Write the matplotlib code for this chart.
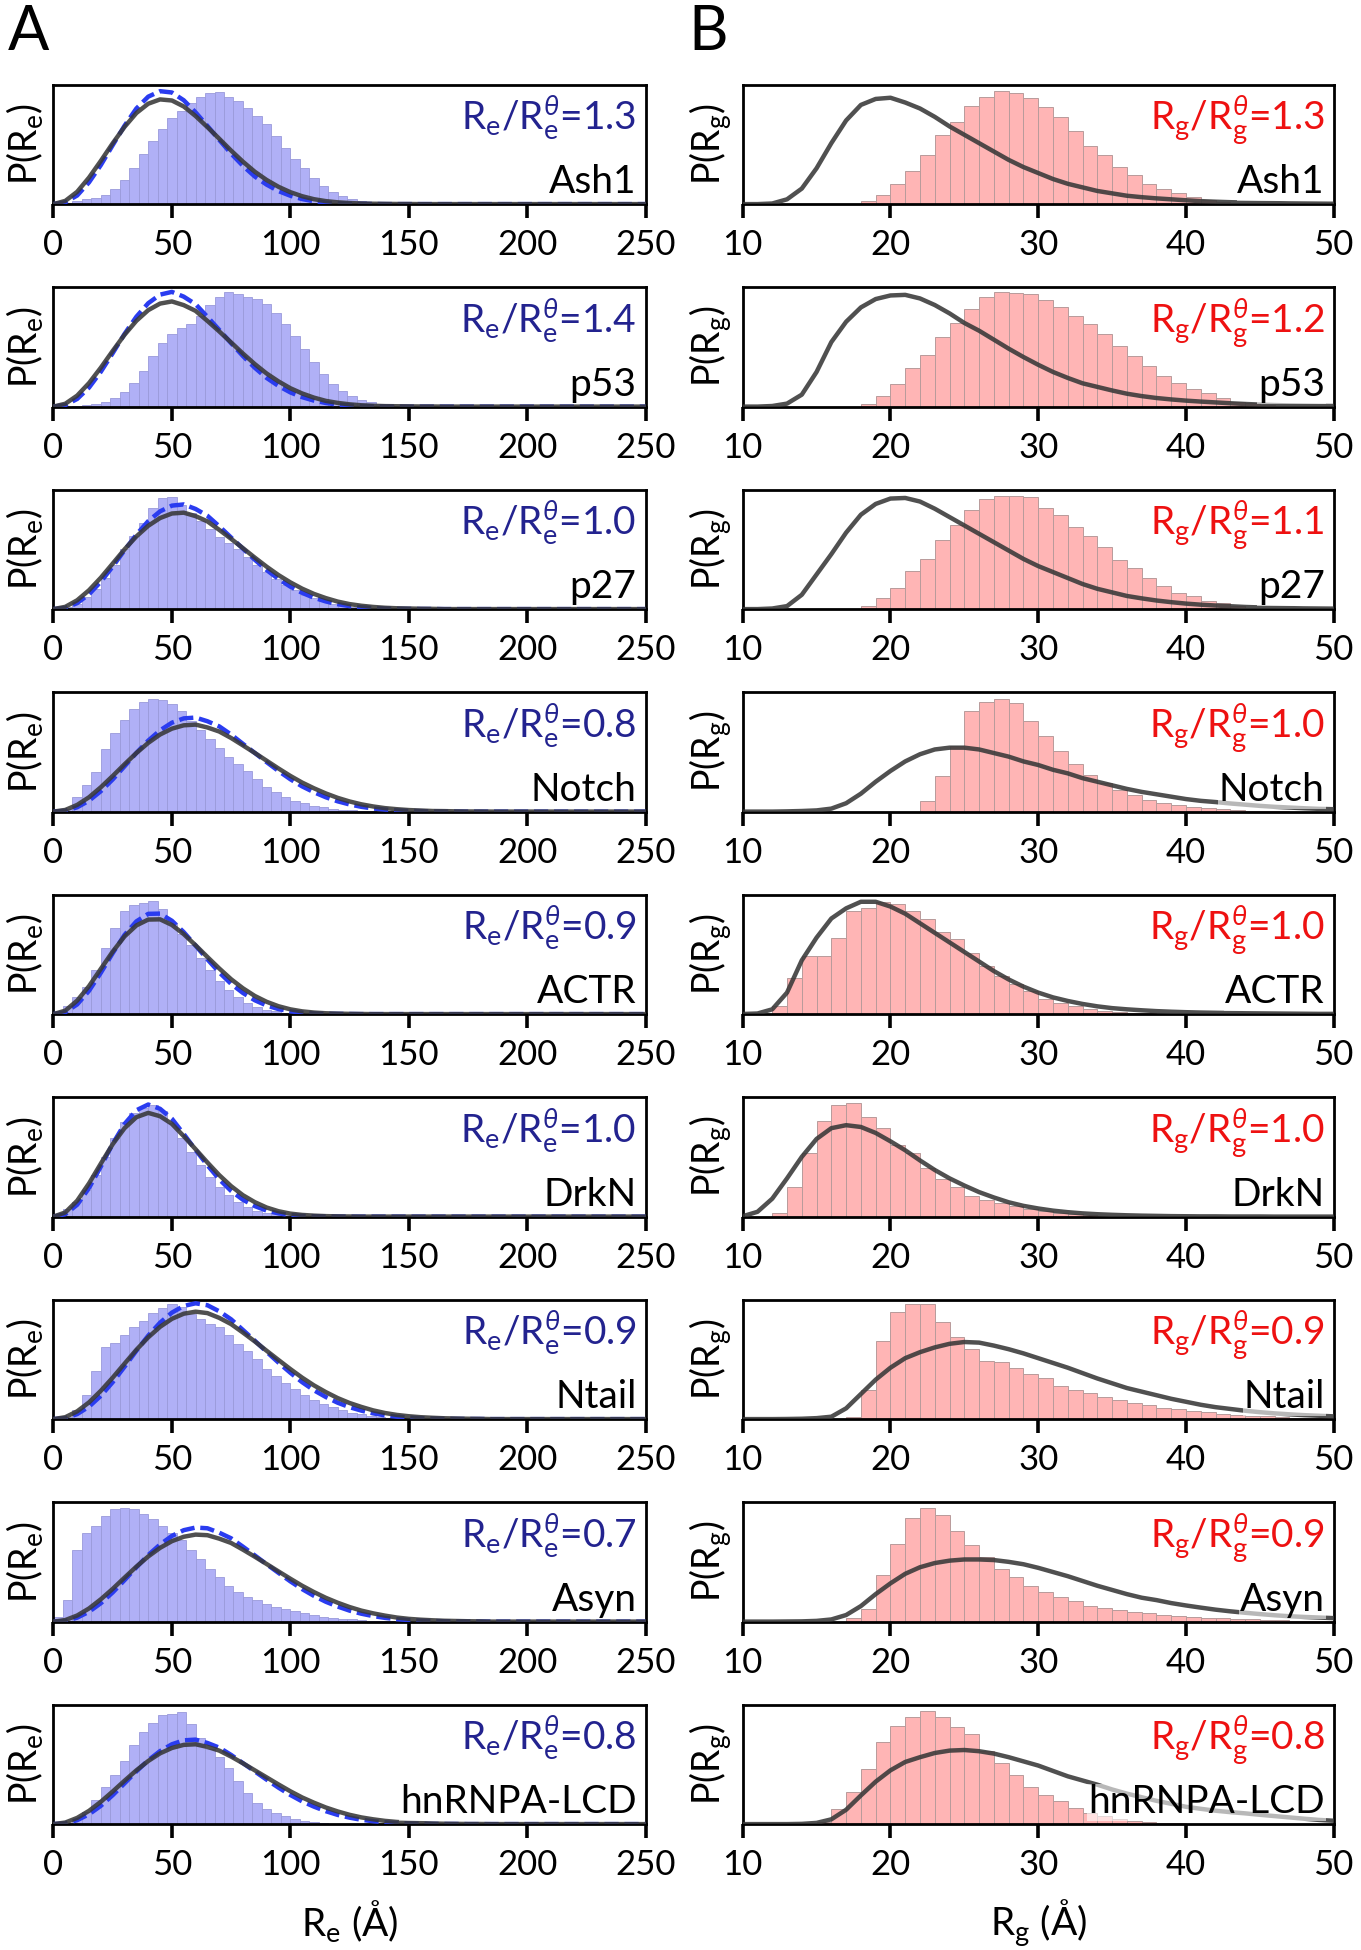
import numpy as np
import matplotlib
matplotlib.use('Agg')
import matplotlib.pyplot as plt

plt.rcParams['font.family'] = ['Lato', 'DejaVu Sans']
plt.rcParams['mathtext.fontset'] = 'custom'
plt.rcParams['mathtext.rm'] = 'Lato'
plt.rcParams['mathtext.it'] = 'Lato:italic'
plt.rcParams['mathtext.bf'] = 'Lato:bold'

proteins = ['Ash1', 'p53', 'p27', 'Notch', 'ACTR', 'DrkN', 'Ntail', 'Asyn', 'hnRNPA-LCD']
re_ratio = ['1.3', '1.4', '1.0', '0.8', '0.9', '1.0', '0.9', '0.7', '0.8']
rg_ratio = ['1.3', '1.2', '1.1', '1.0', '1.0', '1.0', '0.9', '0.9', '0.8']

RE_BIN = 4      # Re histogram bin width, first bin at 0
RE_STEP = 5     # Re curve sampling, first point at 0
RE_MAX = 250
RG_START = 10   # Rg histogram bins of 1 A and curve points every 1 A start here

# ---- Re histograms (simulation) ----
re_hist_ash1 = [0, 0.01, 0.03, 0.04, 0.05, 0.08, 0.13, 0.2, 0.3, 0.42, 0.53, 0.63, 0.72, 0.78, 0.85, 0.9,
                0.93, 0.94, 0.9, 0.86, 0.8, 0.74, 0.67, 0.57, 0.47, 0.38, 0.3, 0.22, 0.15, 0.1, 0.07, 0.045,
                0.025, 0.012, 0.005]
re_hist_p53 = [0, 0, 0.005, 0.01, 0.02, 0.04, 0.07, 0.12, 0.2, 0.3, 0.42, 0.53, 0.61, 0.66, 0.69, 0.76,
               0.85, 0.92, 0.955, 0.945, 0.92, 0.9, 0.86, 0.78, 0.69, 0.59, 0.48, 0.37, 0.27, 0.19, 0.13,
               0.085, 0.055, 0.035, 0.02, 0.01, 0.005]
re_hist_p27 = [0.003, 0.015, 0.04, 0.1, 0.17, 0.26, 0.37, 0.5, 0.61, 0.72, 0.85, 0.93, 0.94, 0.87, 0.8, 0.74,
               0.67, 0.6, 0.55, 0.5, 0.44, 0.37, 0.31, 0.25, 0.2, 0.16, 0.12, 0.09, 0.065, 0.045, 0.032,
               0.02, 0.012, 0.007, 0.004]
re_hist_notch = [0.005, 0.02, 0.12, 0.22, 0.33, 0.52, 0.66, 0.77, 0.86, 0.92, 0.94, 0.935, 0.9, 0.84, 0.76,
                 0.68, 0.61, 0.53, 0.46, 0.4, 0.34, 0.27, 0.21, 0.16, 0.12, 0.09, 0.07, 0.05, 0.037, 0.025,
                 0.017, 0.011, 0.007, 0.004]
re_hist_actr = [0.005, 0.07, 0.14, 0.23, 0.37, 0.55, 0.72, 0.86, 0.91, 0.93, 0.95, 0.88, 0.76, 0.67, 0.58,
                0.47, 0.37, 0.28, 0.2, 0.14, 0.095, 0.06, 0.038, 0.022, 0.013, 0.007, 0.004]
re_hist_drkn = [0.01, 0.06, 0.12, 0.22, 0.35, 0.5, 0.66, 0.79, 0.87, 0.91, 0.935, 0.88, 0.78, 0.66, 0.54,
                0.43, 0.33, 0.25, 0.18, 0.12, 0.08, 0.05, 0.03, 0.018, 0.01, 0.005]
re_hist_ntail = [0.003, 0.02, 0.08, 0.2, 0.4, 0.6, 0.64, 0.7, 0.77, 0.82, 0.89, 0.93, 0.96, 0.94, 0.88, 0.84,
                 0.8, 0.77, 0.7, 0.63, 0.57, 0.5, 0.42, 0.36, 0.3, 0.25, 0.2, 0.16, 0.125, 0.1, 0.075, 0.055,
                 0.04, 0.028, 0.019, 0.012, 0.008, 0.005]
re_hist_asyn = [0.04, 0.18, 0.6, 0.74, 0.8, 0.88, 0.94, 0.95, 0.94, 0.9, 0.86, 0.8, 0.74, 0.68, 0.6, 0.52,
                0.44, 0.37, 0.3, 0.25, 0.21, 0.18, 0.145, 0.12, 0.105, 0.09, 0.07, 0.052, 0.04, 0.032, 0.025,
                0.018, 0.013, 0.009, 0.006, 0.004]
re_hist_hnrnpa = [0.003, 0.012, 0.04, 0.1, 0.2, 0.31, 0.41, 0.53, 0.66, 0.77, 0.85, 0.91, 0.92, 0.94, 0.84,
                  0.72, 0.63, 0.56, 0.47, 0.36, 0.26, 0.18, 0.125, 0.09, 0.065, 0.045, 0.03, 0.018, 0.01, 0.005]

# ---- Re theta-state curves (solid black) ----
re_theta_ash1 = [0, 0.027, 0.103, 0.222, 0.362, 0.509, 0.646, 0.762, 0.84, 0.876, 0.867, 0.817, 0.737, 0.644,
                 0.547, 0.448, 0.355, 0.271, 0.202, 0.145, 0.1, 0.066, 0.041, 0.025, 0.015, 0.009, 0.005,
                 0.003, 0.002, 0.001, 0.001, 0]
re_theta_p53 = [0, 0.024, 0.092, 0.197, 0.326, 0.466, 0.601, 0.718, 0.807, 0.862, 0.88, 0.849, 0.801, 0.717,
                0.629, 0.537, 0.444, 0.356, 0.277, 0.211, 0.154, 0.11, 0.075, 0.048, 0.031, 0.019, 0.011,
                0.007, 0.004, 0.003, 0.002, 0.001, 0.001]
re_theta_p27 = [0, 0.019, 0.074, 0.158, 0.263, 0.381, 0.5, 0.608, 0.697, 0.762, 0.8, 0.807, 0.778, 0.734,
                0.663, 0.588, 0.51, 0.431, 0.355, 0.285, 0.224, 0.171, 0.127, 0.092, 0.063, 0.042, 0.028,
                0.018, 0.011, 0.007, 0.005, 0.003, 0.002]
re_theta_notch = [0, 0.014, 0.056, 0.12, 0.204, 0.298, 0.396, 0.49, 0.575, 0.645, 0.694, 0.722, 0.728, 0.704,
                  0.67, 0.616, 0.554, 0.491, 0.426, 0.361, 0.299, 0.243, 0.195, 0.152, 0.115, 0.085, 0.061,
                  0.043, 0.029, 0.02, 0.013, 0.009, 0.005, 0.004, 0.002, 0.001, 0.001]
re_theta_actr = [0, 0.029, 0.113, 0.234, 0.379, 0.523, 0.65, 0.742, 0.791, 0.793, 0.746, 0.669, 0.576, 0.478,
                 0.382, 0.292, 0.216, 0.152, 0.103, 0.066, 0.04, 0.023, 0.013, 0.007, 0.004, 0.002, 0.001]
re_theta_drkn = [0, 0.035, 0.133, 0.278, 0.444, 0.606, 0.74, 0.832, 0.868, 0.84, 0.776, 0.673, 0.564, 0.453,
                 0.347, 0.255, 0.179, 0.121, 0.076, 0.045, 0.025, 0.014, 0.008, 0.004, 0.002, 0.001]
re_theta_ntail = [0, 0.016, 0.065, 0.14, 0.237, 0.347, 0.464, 0.58, 0.684, 0.772, 0.839, 0.882, 0.899, 0.887,
                  0.847, 0.795, 0.724, 0.65, 0.572, 0.495, 0.419, 0.347, 0.282, 0.226, 0.176, 0.135, 0.102,
                  0.073, 0.051, 0.035, 0.024, 0.016, 0.011, 0.007, 0.005, 0.003, 0.002]
re_theta_asyn = [0, 0.013, 0.051, 0.11, 0.187, 0.274, 0.368, 0.46, 0.545, 0.617, 0.673, 0.71, 0.728, 0.723,
                 0.694, 0.658, 0.602, 0.543, 0.482, 0.42, 0.359, 0.3, 0.247, 0.199, 0.158, 0.122, 0.092,
                 0.069, 0.05, 0.034, 0.023, 0.016, 0.011, 0.007, 0.005, 0.003, 0.002]
re_theta_hnrnpa = [0, 0.013, 0.052, 0.111, 0.187, 0.273, 0.363, 0.45, 0.528, 0.592, 0.637, 0.663, 0.668,
                   0.646, 0.615, 0.565, 0.509, 0.45, 0.391, 0.332, 0.275, 0.223, 0.179, 0.139, 0.106, 0.078,
                   0.056, 0.04, 0.027, 0.018, 0.012, 0.008, 0.005, 0.003, 0.002, 0.001, 0.001]

# ---- Re reference curves (blue dashed) ----
re_ref_ash1 = [0, 0.015, 0.072, 0.182, 0.327, 0.493, 0.656, 0.8, 0.899, 0.945, 0.934, 0.869, 0.768, 0.654,
               0.537, 0.423, 0.32, 0.231, 0.163, 0.109, 0.07, 0.042, 0.024, 0.013, 0.007, 0.004, 0.002, 0.001, 0]
re_ref_p53 = [0, 0.013, 0.064, 0.159, 0.292, 0.447, 0.608, 0.752, 0.865, 0.937, 0.96, 0.92, 0.857, 0.751,
              0.642, 0.531, 0.423, 0.325, 0.24, 0.173, 0.119, 0.079, 0.05, 0.03, 0.017, 0.01, 0.005, 0.003,
              0.002, 0.001]
re_ref_p27 = [0, 0.01, 0.05, 0.124, 0.229, 0.356, 0.493, 0.623, 0.736, 0.818, 0.866, 0.876, 0.838, 0.781,
              0.693, 0.599, 0.506, 0.413, 0.327, 0.252, 0.188, 0.136, 0.095, 0.064, 0.041, 0.025, 0.015,
              0.009, 0.005, 0.003, 0.002, 0.001, 0.001]
re_ref_notch = [0, 0.007, 0.036, 0.091, 0.171, 0.269, 0.379, 0.491, 0.594, 0.68, 0.744, 0.78, 0.787, 0.756,
                0.713, 0.645, 0.567, 0.491, 0.414, 0.34, 0.271, 0.211, 0.162, 0.12, 0.086, 0.06, 0.04, 0.026,
                0.017, 0.01, 0.006, 0.004, 0.002, 0.001, 0.001]
re_ref_actr = [0, 0.016, 0.081, 0.195, 0.346, 0.51, 0.663, 0.776, 0.839, 0.841, 0.781, 0.686, 0.573, 0.458,
               0.349, 0.253, 0.177, 0.116, 0.072, 0.042, 0.023, 0.012, 0.006, 0.003, 0.002, 0.001]
re_ref_drkn = [0, 0.02, 0.099, 0.239, 0.419, 0.609, 0.775, 0.89, 0.938, 0.902, 0.819, 0.691, 0.558, 0.43,
               0.312, 0.215, 0.141, 0.088, 0.05, 0.027, 0.013, 0.007, 0.003, 0.002, 0.001]
re_ref_ntail = [0, 0.008, 0.042, 0.104, 0.195, 0.309, 0.438, 0.572, 0.698, 0.807, 0.891, 0.947, 0.969, 0.953,
                0.902, 0.835, 0.746, 0.656, 0.563, 0.473, 0.388, 0.309, 0.241, 0.185, 0.137, 0.1, 0.071,
                0.048, 0.031, 0.02, 0.013, 0.008, 0.005, 0.003, 0.002, 0.001, 0.001]
re_ref_asyn = [0, 0.006, 0.033, 0.082, 0.154, 0.244, 0.347, 0.454, 0.557, 0.645, 0.717, 0.765, 0.787, 0.781,
               0.744, 0.697, 0.627, 0.554, 0.48, 0.408, 0.337, 0.272, 0.215, 0.166, 0.126, 0.092, 0.066,
               0.046, 0.031, 0.02, 0.013, 0.008, 0.005, 0.003, 0.002, 0.001, 0.001]
re_ref_hnrnpa = [0, 0.006, 0.033, 0.082, 0.153, 0.242, 0.341, 0.441, 0.534, 0.611, 0.668, 0.701, 0.707,
                 0.679, 0.64, 0.579, 0.51, 0.441, 0.372, 0.305, 0.244, 0.19, 0.146, 0.108, 0.077, 0.054,
                 0.036, 0.024, 0.015, 0.009, 0.006, 0.004, 0.002, 0.001, 0.001]

# ---- Rg histograms (simulation), bins of 1 A from 10 A ----
rg_hist_ash1 = [0, 0, 0, 0, 0, 0, 0, 0, 0.03, 0.08, 0.165, 0.28, 0.41, 0.58, 0.69, 0.82, 0.9, 0.95, 0.93,
                0.89, 0.81, 0.73, 0.61, 0.49, 0.41, 0.31, 0.24, 0.17, 0.125, 0.09, 0.06, 0.035, 0.02, 0.012,
                0.008, 0.004]
rg_hist_p53 = [0, 0, 0, 0, 0, 0, 0, 0, 0.02, 0.085, 0.19, 0.32, 0.43, 0.58, 0.7, 0.82, 0.92, 0.96, 0.95,
               0.94, 0.89, 0.83, 0.76, 0.69, 0.61, 0.51, 0.42, 0.34, 0.26, 0.2, 0.15, 0.11, 0.07, 0.042,
               0.028, 0.015, 0.008, 0.004, 0.002, 0.001]
rg_hist_p27 = [0, 0, 0, 0, 0, 0, 0, 0, 0.03, 0.09, 0.18, 0.32, 0.42, 0.58, 0.7, 0.83, 0.92, 0.95, 0.95,
               0.94, 0.85, 0.79, 0.69, 0.61, 0.52, 0.41, 0.34, 0.26, 0.19, 0.135, 0.107, 0.07, 0.048,
               0.023, 0.012, 0.006, 0.003]
rg_hist_notch = [0, 0, 0, 0, 0, 0, 0, 0, 0, 0, 0, 0, 0.085, 0.3, 0.55, 0.845, 0.92, 0.94, 0.91, 0.76, 0.63,
                 0.51, 0.4, 0.31, 0.24, 0.18, 0.135, 0.1, 0.076, 0.056, 0.04, 0.028, 0.02, 0.013, 0.008,
                 0.005, 0.003]
rg_hist_actr = [0, 0.005, 0.065, 0.3, 0.49, 0.49, 0.64, 0.865, 0.89, 0.94, 0.92, 0.865, 0.795, 0.69, 0.63,
                0.51, 0.4, 0.32, 0.25, 0.19, 0.13, 0.093, 0.065, 0.045, 0.03, 0.02, 0.012, 0.007, 0.004, 0.002]
rg_hist_drkn = [0, 0, 0.028, 0.245, 0.53, 0.8, 0.93, 0.95, 0.83, 0.74, 0.6, 0.53, 0.41, 0.315, 0.245,
                0.175, 0.14, 0.11, 0.085, 0.062, 0.045, 0.031, 0.02, 0.012, 0.007, 0.004, 0.002]
rg_hist_ntail = [0, 0, 0, 0, 0, 0, 0, 0.014, 0.24, 0.65, 0.9, 0.96, 0.96, 0.815, 0.69, 0.59, 0.49, 0.48,
                 0.43, 0.375, 0.345, 0.275, 0.24, 0.22, 0.185, 0.156, 0.136, 0.114, 0.097, 0.085, 0.068,
                 0.057, 0.045, 0.037, 0.028, 0.023, 0.017, 0.012, 0.009, 0.006]
rg_hist_asyn = [0, 0, 0, 0, 0, 0, 0, 0.028, 0.107, 0.39, 0.65, 0.87, 0.95, 0.89, 0.76, 0.64, 0.54, 0.44,
                0.37, 0.3, 0.25, 0.21, 0.17, 0.127, 0.113, 0.093, 0.079, 0.068, 0.056, 0.048, 0.039, 0.034,
                0.028, 0.022, 0.018, 0.014, 0.011, 0.008, 0.006, 0.004]
rg_hist_hnrnpa = [0, 0, 0, 0, 0, 0.02, 0.13, 0.27, 0.46, 0.69, 0.825, 0.9, 0.945, 0.9, 0.815, 0.75, 0.61,
                  0.51, 0.41, 0.31, 0.245, 0.195, 0.133, 0.097, 0.064, 0.042, 0.028, 0.017, 0.01, 0.006, 0.003]

# ---- Rg theta-state curves, one point per A from 10 A ----
rg_theta_ash1 = [0, 0, 0.005, 0.04, 0.13, 0.3, 0.51, 0.7, 0.83, 0.88, 0.89, 0.85, 0.8, 0.73, 0.65, 0.58,
                 0.51, 0.44, 0.37, 0.31, 0.26, 0.21, 0.17, 0.14, 0.11, 0.09, 0.07, 0.058, 0.048, 0.04, 0.032,
                 0.025, 0.02, 0.016, 0.013, 0.01, 0.008, 0.006, 0.005, 0.004, 0.003]
rg_theta_p53 = [0, 0, 0.005, 0.025, 0.1, 0.29, 0.54, 0.71, 0.83, 0.9, 0.93, 0.935, 0.905, 0.85, 0.78, 0.7,
                0.635, 0.56, 0.485, 0.415, 0.35, 0.29, 0.24, 0.195, 0.165, 0.135, 0.108, 0.088, 0.072, 0.06,
                0.05, 0.042, 0.035, 0.028, 0.022, 0.017, 0.013, 0.01, 0.008, 0.006, 0.005]
rg_theta_p27 = [0, 0, 0.005, 0.025, 0.12, 0.29, 0.46, 0.64, 0.79, 0.88, 0.925, 0.93, 0.9, 0.84, 0.77, 0.7,
                0.63, 0.56, 0.49, 0.42, 0.36, 0.31, 0.26, 0.21, 0.17, 0.14, 0.11, 0.09, 0.072, 0.058, 0.046,
                0.037, 0.03, 0.024, 0.018, 0.014, 0.011, 0.008, 0.006, 0.005, 0.004]
rg_theta_notch = [0, 0, 0, 0.002, 0.005, 0.01, 0.025, 0.07, 0.15, 0.25, 0.34, 0.42, 0.48, 0.52, 0.535, 0.535,
                  0.52, 0.49, 0.46, 0.42, 0.39, 0.35, 0.32, 0.28, 0.25, 0.22, 0.19, 0.165, 0.145, 0.125,
                  0.105, 0.09, 0.08, 0.068, 0.058, 0.048, 0.04, 0.034, 0.028, 0.023, 0.02]
rg_theta_actr = [0.001, 0.005, 0.04, 0.18, 0.45, 0.64, 0.8, 0.885, 0.94, 0.94, 0.9, 0.84, 0.76, 0.68, 0.6,
                 0.52, 0.44, 0.36, 0.29, 0.23, 0.18, 0.14, 0.11, 0.085, 0.065, 0.05, 0.04, 0.032, 0.025, 0.02,
                 0.016, 0.013, 0.011, 0.009, 0.007, 0.006, 0.005, 0.004, 0.003, 0.002, 0.002]
rg_theta_drkn = [0.003, 0.04, 0.15, 0.32, 0.5, 0.65, 0.74, 0.765, 0.75, 0.7, 0.63, 0.555, 0.47, 0.39, 0.32,
                 0.26, 0.205, 0.16, 0.12, 0.09, 0.068, 0.05, 0.037, 0.027, 0.02, 0.015, 0.011, 0.008, 0.006,
                 0.004, 0.003, 0.002, 0.002, 0.001, 0.001, 0.001, 0, 0, 0, 0, 0]
rg_theta_ntail = [0, 0, 0, 0.001, 0.003, 0.008, 0.02, 0.09, 0.21, 0.33, 0.43, 0.51, 0.56, 0.6, 0.63, 0.645,
                  0.64, 0.615, 0.585, 0.55, 0.51, 0.47, 0.43, 0.385, 0.34, 0.3, 0.26, 0.23, 0.2, 0.17, 0.145,
                  0.12, 0.1, 0.085, 0.07, 0.058, 0.048, 0.04, 0.033, 0.028, 0.023]
rg_theta_asyn = [0, 0, 0, 0.001, 0.002, 0.006, 0.018, 0.055, 0.13, 0.23, 0.32, 0.4, 0.455, 0.49, 0.51, 0.52,
                 0.52, 0.515, 0.5, 0.48, 0.45, 0.415, 0.38, 0.34, 0.3, 0.265, 0.23, 0.2, 0.18, 0.155, 0.135,
                 0.117, 0.1, 0.086, 0.074, 0.063, 0.053, 0.045, 0.039, 0.034, 0.029]
rg_theta_hnrnpa = [0, 0, 0, 0, 0.002, 0.01, 0.04, 0.12, 0.24, 0.355, 0.45, 0.52, 0.56, 0.595, 0.615, 0.62,
                   0.61, 0.59, 0.56, 0.525, 0.49, 0.445, 0.4, 0.365, 0.33, 0.29, 0.255, 0.225, 0.195, 0.17,
                   0.145, 0.128, 0.112, 0.1, 0.09, 0.078, 0.067, 0.056, 0.045, 0.035, 0.028]

re_hists = [re_hist_ash1, re_hist_p53, re_hist_p27, re_hist_notch, re_hist_actr,
            re_hist_drkn, re_hist_ntail, re_hist_asyn, re_hist_hnrnpa]
re_thetas = [re_theta_ash1, re_theta_p53, re_theta_p27, re_theta_notch, re_theta_actr,
             re_theta_drkn, re_theta_ntail, re_theta_asyn, re_theta_hnrnpa]
re_refs = [re_ref_ash1, re_ref_p53, re_ref_p27, re_ref_notch, re_ref_actr,
           re_ref_drkn, re_ref_ntail, re_ref_asyn, re_ref_hnrnpa]
rg_hists = [rg_hist_ash1, rg_hist_p53, rg_hist_p27, rg_hist_notch, rg_hist_actr,
            rg_hist_drkn, rg_hist_ntail, rg_hist_asyn, rg_hist_hnrnpa]
rg_thetas = [rg_theta_ash1, rg_theta_p53, rg_theta_p27, rg_theta_notch, rg_theta_actr,
             rg_theta_drkn, rg_theta_ntail, rg_theta_asyn, rg_theta_hnrnpa]

re_grid = np.arange(0, RE_MAX + RE_STEP, RE_STEP)


def full_re(y):
    # curves are zero beyond the listed points, run them out along the baseline
    out = np.zeros(len(re_grid))
    out[:len(y)] = y
    return out


W, H = 1361, 1950
fig = plt.figure(figsize=(W / 100, H / 100), dpi=100)

# panel geometry in pixels
ax_h = 119.5
pitch = 202.5
top0 = 84.6
col_x = [(53.5, 592.0), (742.7, 591.0)]

LABEL_FS = 28
YLAB_FS = 27
TICK_FS = 25
box = dict(facecolor='white', alpha=0.6, edgecolor='none', pad=0.5)


def style_axes(ax, xlim, xticks):
    ax.set_xlim(*xlim)
    ax.set_ylim(0, 1.0)
    ax.set_yticks([])
    ax.set_xticks(xticks)
    for s in ax.spines.values():
        s.set_linewidth(2.0)
    ax.tick_params(axis='x', direction='out', length=10, width=2.6, labelsize=TICK_FS, pad=8)


n = len(proteins)
for i in range(n):
    top = top0 + i * pitch
    bottom = 1 - (top + ax_h) / H

    # left column: end-to-end distance
    x0, w = col_x[0]
    ax = fig.add_axes([x0 / W, bottom, w / W, ax_h / H])
    h = re_hists[i]
    ax.bar(RE_BIN * np.arange(len(h)), h, width=RE_BIN, align='edge',
           color='#b0b0f6', edgecolor='#9a9ada', linewidth=0.6, zorder=1)
    ax.plot(re_grid, full_re(re_refs[i]), color='#2a3cf0', lw=3.2,
            linestyle=(0, (3.2, 1.3)), zorder=3)
    ax.plot(re_grid, full_re(re_thetas[i]), color='#383838', lw=3.2, alpha=0.88, zorder=4)
    style_axes(ax, (0, RE_MAX), [0, 50, 100, 150, 200, 250])
    ax.set_ylabel(r'P(R$_\mathrm{e}$)', fontsize=YLAB_FS)
    ax.yaxis.set_label_coords(-0.014, 0.5)
    ax.text(0.985, 0.62, r'R$_\mathrm{e}$/R$_\mathrm{e}^{\theta}$=' + re_ratio[i], transform=ax.transAxes,
            ha='right', va='baseline', fontsize=LABEL_FS, color='#23238f', zorder=5)
    ax.text(0.985, 0.09, proteins[i], transform=ax.transAxes, ha='right', va='baseline',
            fontsize=LABEL_FS, color='black', zorder=5, bbox=box)
    if i == n - 1:
        ax.set_xlabel(r'R$_\mathrm{e}$ ($\mathrm{\AA}$)', fontsize=LABEL_FS, labelpad=12)

    # right column: radius of gyration
    x0, w = col_x[1]
    ax = fig.add_axes([x0 / W, bottom, w / W, ax_h / H])
    h = rg_hists[i]
    ax.bar(RG_START + np.arange(len(h)), h, width=1, align='edge',
           color='#ffb5b5', edgecolor='#b89b9b', linewidth=0.7, zorder=1)
    y = rg_thetas[i]
    ax.plot(RG_START + np.arange(len(y)), y, color='#383838', lw=3.2, alpha=0.88, zorder=4)
    style_axes(ax, (10, 50), [10, 20, 30, 40, 50])
    ax.set_ylabel(r'P(R$_\mathrm{g}$)', fontsize=YLAB_FS)
    ax.yaxis.set_label_coords(-0.014, 0.5)
    ax.text(0.985, 0.62, r'R$_\mathrm{g}$/R$_\mathrm{g}^{\theta}$=' + rg_ratio[i], transform=ax.transAxes,
            ha='right', va='baseline', fontsize=LABEL_FS, color='#ee1111', zorder=5)
    ax.text(0.985, 0.09, proteins[i], transform=ax.transAxes, ha='right', va='baseline',
            fontsize=LABEL_FS, color='black', zorder=5, bbox=box)
    if i == n - 1:
        ax.set_xlabel(r'R$_\mathrm{g}$ ($\mathrm{\AA}$)', fontsize=LABEL_FS, labelpad=12)

fig.text(8 / W, 1 - 50 / H, 'A', fontsize=44, va='baseline', ha='left')
fig.text(688 / W, 1 - 50 / H, 'B', fontsize=44, va='baseline', ha='left')

fig.savefig('out.png', dpi=100)
